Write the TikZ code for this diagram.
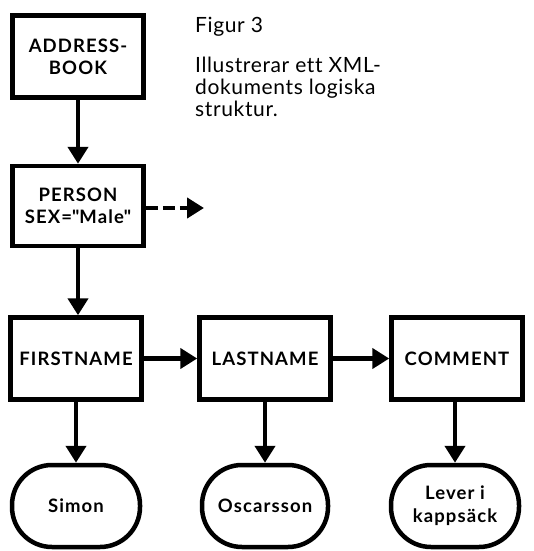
\documentclass[tikz,border=0pt]{standalone}
\usepackage{fontspec}
\setmainfont{Lato}
\usetikzlibrary{arrows.meta}
\newcommand{\boxfont}{\fontsize{18.5}{22}\selectfont\bfseries\addfontfeature{LetterSpace=6}}
\newcommand{\levfont}{\fontsize{18.5}{23}\selectfont\bfseries\addfontfeature{LetterSpace=6}}
\newcommand{\descfont}{\fontsize{21}{22}\selectfont\addfontfeature{LetterSpace=3,Ligatures=NoCommon}}
\begin{document}
\begin{tikzpicture}[x=1pt,y=-1pt,
  box/.style={draw, line width=4.5pt, minimum width=131pt, minimum height=82pt, inner sep=0pt, align=center, font=\boxfont},
  valbox/.style={draw, line width=4.5pt, rounded corners=40pt, minimum width=128pt, minimum height=82pt, inner sep=0pt, align=center, font=\boxfont},
  conn/.style={line width=4.5pt, -{Triangle[length=17pt,width=20pt]}},
  txt/.style={inner sep=0pt, align=left, font=\descfont}]
\useasboundingbox (0,0) rectangle (533,551);
\node[box] (addr) at (78,56.5) {ADDRESS-\\BOOK};
\node[box, minimum height=80pt] (person) at (78,206) {PERSON\\SEX=\textquotedbl Male\textquotedbl};
\node[box] (first) at (76,358.5) {FIRSTNAME};
\node[box] (last) at (265,358.5) {LASTNAME};
\node[box] (comm) at (457,358.5) {COMMENT};
\node[valbox] (simon) at (76,506) {Simon};
\node[valbox, minimum width=126pt] (osc) at (265,506) {Oscarsson};
\node[valbox, font=\levfont] (lever) at (455,506) {Lever i\\kappsäck};
\coordinate (dashend) at (204,208);
\draw[conn] (addr) -- (person);
\draw[conn, dash pattern=on 12pt off 5pt] (person.east |- dashend) -- (dashend);
\draw[conn] (person.south) -- (person.south |- first.north);
\draw[conn] (first) -- (last);
\draw[conn] (last) -- (comm);
\draw[conn] (first) -- (simon);
\draw[conn] (last) -- (osc);
\draw[conn] (comm.south -| lever) -- (lever);
\node[txt, anchor=base west] (fig) at (195,33) {Figur 3};
\node[txt, anchor=north west] (desc) at (195,57) {Illustrerar ett XML-\\dokuments logiska\\struktur.};
\end{tikzpicture}
\end{document}
